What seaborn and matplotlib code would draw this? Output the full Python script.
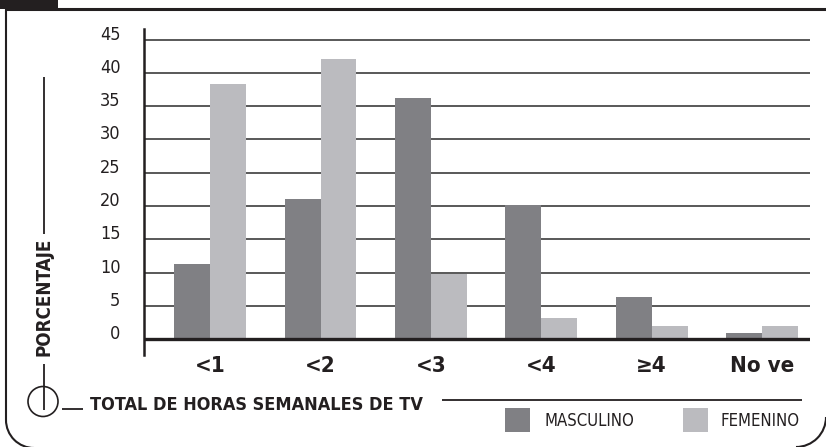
import numpy as np
import pandas as pd
import matplotlib
matplotlib.use("Agg")
import matplotlib.pyplot as plt
import seaborn as sns
from matplotlib.lines import Line2D
from matplotlib.patches import Rectangle, Ellipse, Arc

# data
categorias = ["<1", "<2", "<3", "<4", "≥4", "No ve"]
masculino = [11.3, 21.1, 36.2, 20.2, 6.3, 0.9]
femenino = [38.3, 42.1, 9.8, 3.2, 2.0, 2.0]
series = ["MASCULINO", "FEMENINO"]
yticks = [0, 5, 10, 15, 20, 25, 30, 35, 40, 45]

COL_DARK = "#808084"
COL_LIGHT = "#bbbbbf"
INK = "#231f20"

W, H = 826, 447

df = pd.DataFrame({
    "horas": categorias * 2,
    "pct": masculino + femenino,
    "sexo": [series[0]] * len(categorias) + [series[1]] * len(categorias),
})

sns.set_style("white")
# condensed face stands in for the narrow type of the original
plt.rcParams["font.family"] = ["DejaVu Sans"]
plt.rcParams["font.stretch"] = "condensed"

fig = plt.figure(figsize=(W / 100, H / 100), dpi=100)


def fx(x):
    return x / W


def fy(y):
    return 1 - y / H


# axes placed in pixel terms: left spine x=144, right end x=810, spine y 29..355
ax = fig.add_axes([fx(144), fy(355), fx(810) - fx(144), fy(29) - fy(355)])

sns.barplot(data=df, x="horas", y="pct", hue="sexo", order=categorias,
            hue_order=series, palette=[COL_DARK, COL_LIGHT], width=0.65,
            saturation=1, linewidth=0, legend=False, ax=ax, zorder=3)

ax.set_xlim(-0.6, 5.435)
ax.set_ylim(-2.36, 46.58)
ax.set_yticks(yticks)
ax.set_yticklabels([str(v) for v in yticks])
ax.yaxis.grid(True, color="#3c3c3c", linewidth=1.2, zorder=1)
ax.set_axisbelow(True)
ax.axhline(0, color=INK, linewidth=2.4, zorder=4)

for s in ["top", "right", "bottom"]:
    ax.spines[s].set_visible(False)
ax.spines["left"].set_color(INK)
ax.spines["left"].set_linewidth(1.8)

ax.tick_params(axis="y", length=10, width=1.2, color="#3c3c3c", pad=7,
               labelsize=13, labelcolor=INK)
for lab in ax.get_yticklabels():
    lab.set_va("baseline")
ax.tick_params(axis="x", length=0, pad=1, labelsize=16, labelcolor=INK)
for lab in ax.get_xticklabels():
    lab.set_fontweight("bold")
ax.set_xlabel("")
ax.set_ylabel("")

# frame decorations in pixel coords
tf = fig.transFigure


def line(xs, ys, lw=1.3, color=INK):
    fig.add_artist(Line2D([fx(x) for x in xs], [fy(y) for y in ys],
                          transform=tf, color=color, linewidth=lw,
                          solid_capstyle="butt"))


fig.add_artist(Rectangle((fx(0), fy(9)), fx(58), fy(0) - fy(9),
                         transform=tf, color=INK, linewidth=0))
line([5, W], [9, 9], lw=2.2)
line([6, 6], [9, 420], lw=1.5)
fig.add_artist(Arc((fx(34), fy(420)), fx(56), 56 / H, theta1=180, theta2=270,
                   transform=tf, color=INK, linewidth=1.5))
fig.add_artist(Arc((fx(796), fy(417)), fx(60), 60 / H, theta1=270, theta2=360,
                   transform=tf, color=INK, linewidth=1.5))

# y label with rules and circle
line([44, 44], [77, 234])
fig.text(fx(44), fy(297), "PORCENTAJE", rotation=90, ha="center", va="center",
         fontsize=13.5, fontweight="bold", color=INK)
line([44, 44], [364, 410])
fig.add_artist(Ellipse((fx(43), fy(401.5)), fx(30), 30 / H, transform=tf,
                       fill=False, edgecolor=INK, linewidth=1.2))
line([62, 83], [409, 409])
fig.text(fx(90), fy(405), "TOTAL DE HORAS SEMANALES DE TV", ha="left",
         va="center", fontsize=13, fontweight="bold", color=INK)
line([442, 802], [400, 400])

# legend
fig.add_artist(Rectangle((fx(505), fy(432)), fx(25), fy(408) - fy(432),
                         transform=tf, color=COL_DARK, linewidth=0))
fig.text(fx(544), fy(421), "MASCULINO", ha="left", va="center",
         fontsize=12, color=INK)
fig.add_artist(Rectangle((fx(683), fy(432)), fx(25), fy(408) - fy(432),
                         transform=tf, color=COL_LIGHT, linewidth=0))
fig.text(fx(721), fy(421), "FEMENINO", ha="left", va="center",
         fontsize=12, color=INK)

fig.savefig("out.png", dpi=100)
